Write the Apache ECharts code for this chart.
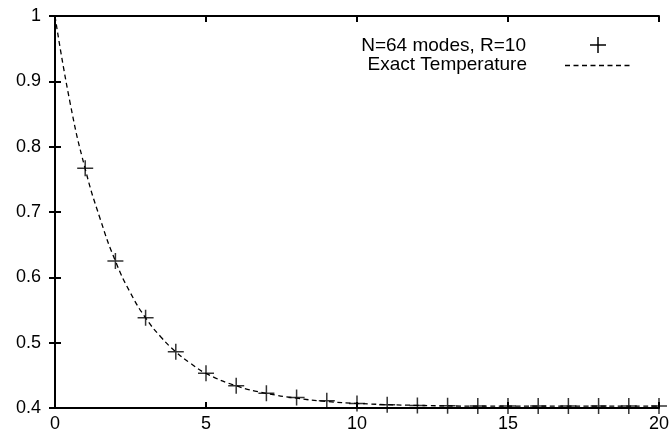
<!DOCTYPE html>
<html><head><meta charset="utf-8">
<script src="https://cdn.jsdelivr.net/npm/echarts@6/dist/echarts.min.js"></script>
<style>html,body{margin:0;padding:0;background:#fff}#c{width:672px;height:434px}</style>
</head><body><div id="c"></div>
<script>
var xTicks = [0, 5, 10, 15, 20];
var yTicks = [0.4, 0.5, 0.6, 0.7, 0.8, 0.9, 1];
var modeX = [1,2,3,4,5,6,7,8,9,10,11,12,13,14,15,16,17,18,19,20];
var modeY = [0.767,0.625,0.538,0.486,0.453,0.434,0.4225,0.416,0.411,0.407,0.405,0.404,0.4035,0.403,0.403,0.403,0.403,0.403,0.403,0.403];
var exactX = [0,0.5,1,1.5,2,2.5,3,3.5,4,4.5,5,6,7,8,9,10,12,14,16,18,20];
var exactY = [1.0,0.867,0.766,0.689,0.625,0.576,0.538,0.509,0.486,0.468,0.453,0.434,0.4225,0.415,0.41,0.407,0.404,0.403,0.403,0.403,0.403];
var legendNames = ['N=64 modes, R=10', 'Exact Temperature'];

var plus = 'path://M0,7.25H16V8.75H0Z M7.25,0H8.75V16H7.25Z';
var font = 'Liberation Sans';
var axisLine = {show:true, lineStyle:{color:'#000', width:2}};
var tick = {show:true, inside:true, length:6, lineStyle:{color:'#000', width:2}};
function mkX(pos, labels){
  return {type:'value', position:pos, min:0, max:20, interval:5,
    axisLine:axisLine, axisTick:tick, splitLine:{show:false},
    axisLabel:{show:labels, color:'#000', fontFamily:font, fontSize:18, margin:7}};
}
function mkY(pos, labels){
  return {type:'value', position:pos, min:0.4, max:1, interval:0.1,
    axisLine:axisLine, axisTick:tick, splitLine:{show:false},
    axisLabel:{show:labels, color:'#000', fontFamily:font, fontSize:18, margin:14,
      formatter:function(v){return String(Math.round(v*10)/10);}}};
}
var chart = echarts.init(document.getElementById('c'));
chart.setOption({
  animation:false,
  grid:{left:55, right:12, top:16, bottom:26},
  xAxis:[mkX('bottom', true), mkX('top', false)],
  yAxis:[mkY('left', true), mkY('right', false)],
  series:[
    {name:legendNames[1], type:'line', smooth:true, symbol:'none',
      data:exactX.map(function(x,i){return [x, exactY[i]];}),
      lineStyle:{color:'#000', width:1.3, type:[5,3.5]}},
    {name:legendNames[0], type:'scatter', symbol:plus, symbolSize:16,
      data:modeX.map(function(x,i){return [x, modeY[i]];}),
      itemStyle:{color:'#000'}}
  ],
  graphic:[
    {type:'text', style:{x:526, y:46, text:legendNames[0], font:'19px "Liberation Sans"', fill:'#000', textAlign:'right', textVerticalAlign:'middle'}},
    {type:'text', style:{x:527, y:65, text:legendNames[1], font:'19px "Liberation Sans"', fill:'#000', textAlign:'right', textVerticalAlign:'middle'}},
    {type:'rect', shape:{x:590, y:44.25, width:16, height:1.5}, style:{fill:'#000'}},
    {type:'rect', shape:{x:597.25, y:37, width:1.5, height:16}, style:{fill:'#000'}},
    {type:'line', shape:{x1:565, y1:65.5, x2:633, y2:65.5}, style:{stroke:'#000', lineWidth:1.3, lineDash:[5,3.5]}}
  ]
});
</script></body></html>
